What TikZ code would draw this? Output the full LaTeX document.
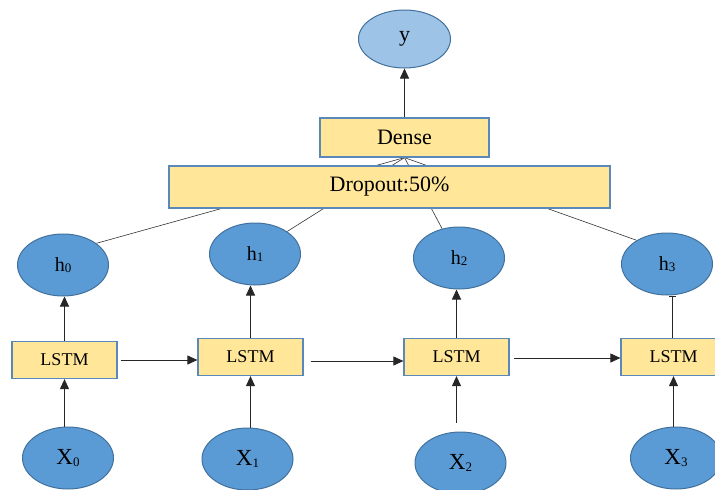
\documentclass[tikz,border=0pt]{standalone}
\usepackage{fontspec}
\setmainfont{Liberation Serif}
\usetikzlibrary{shapes.geometric,arrows.meta,backgrounds}
\definecolor{ellfill}{HTML}{5B9BD5}
\definecolor{ellline}{HTML}{41719C}
\definecolor{yfill}{HTML}{9DC3E6}
\definecolor{boxfill}{HTML}{FFE699}
\definecolor{boxline}{HTML}{5A88B8}
\newcommand{\hsb}[1]{\raisebox{-1.5pt}{\fontsize{13}{13}\selectfont #1}}
\begin{document}
\begin{tikzpicture}[x=1pt,y=-1pt,
  ell/.style={ellipse,draw=ellline,line width=1pt,fill=ellfill,minimum width=91pt,minimum height=62pt,inner sep=0pt},
  boxn/.style={rectangle,draw=boxline,line width=1.2pt,fill=boxfill,inner sep=0pt},
  lstm/.style={boxn,minimum width=105pt,minimum height=37pt,font=\fontsize{18}{20}\selectfont},
  arr/.style={-{Triangle[length=10pt,width=9pt]},line width=0.9pt,draw=black!85},
  conn/.style={line width=0.6pt,draw=black!80},
  hfont/.style={font=\fontsize{20}{22}\selectfont},
  xfont/.style={font=\fontsize{23}{25}\selectfont}]
\useasboundingbox (0,0) rectangle (715,490);

% output
\node[ell,fill=yfill,minimum width=92pt,minimum height=58pt,font=\fontsize{22}{24}\selectfont] (yn) at (404.5,39) {y};
\node[boxn,minimum width=169pt,minimum height=39pt,font=\fontsize{22}{24}\selectfont] (dense) at (404.5,137.5) {Dense};
\node[boxn,minimum width=441pt,minimum height=42pt,font=\fontsize{22}{24}\selectfont] (drop) at (389.5,187) {Dropout:50\%};

% hidden outputs
\node[ell,hfont] (h0) at (63,265) {h\hsb{0}};
\node[ell,hfont] (h1) at (255,254) {h\hsb{1}};
\node[ell,hfont] (h2) at (459,258) {h\hsb{2}};
\node[ell,hfont] (h3) at (667,264) {h\hsb{3}};

% LSTM cells
\node[lstm] (b0) at (64.5,360) {LSTM};
\node[lstm] (b1) at (250.5,357) {LSTM};
\node[lstm] (b2) at (456.5,357) {LSTM};
\node[lstm] (b3) at (673.5,357) {LSTM};

% inputs
\node[ell,xfont] (x0) at (68,458) {X\hsb{0}};
\node[ell,xfont] (x1) at (247.5,459) {X\hsb{1}};
\node[ell,xfont] (x2) at (460.5,463) {X\hsb{2}};
\node[ell,xfont] (x3) at (676,458) {X\hsb{3}};

% lines from h to dense (behind dropout)
\begin{pgfonlayer}{background}
\draw[conn] (h0.33) -- (dense.south);
\draw[conn] (h1.35) -- (dense.south);
\draw[conn] (h2.120) -- (dense.south);
\draw[conn] (h3.142) -- (dense.south);
\end{pgfonlayer}

% dense -> y
\draw[arr] (dense.north) -- (yn.south);

% x -> lstm
\draw[arr] (b0.south |- x0.north) -- (b0.south);
\draw[arr] (b1.south |- x1.north) -- (b1.south);
\draw[arr] ([yshift=9pt]b2.south |- x2.north) -- (b2.south);
\draw[arr] (b3.south |- x3.north) -- (b3.south);

% lstm -> h
\draw[arr] (b0.north) -- (b0.north |- h0.south);
\draw[arr] (b1.north) -- (b1.north |- h1.south);
\draw[arr] (b2.north) -- (b2.north |- h2.south);
\draw[line width=0.9pt,draw=black!85,-{Bar[width=7pt,line width=1.4pt]}] ([xshift=-1pt]b3.north) -- ([xshift=-1pt]b3.north |- h3.south);

% recurrent connections
\draw[arr] ([xshift=3pt]b0.east) -- (b0.east -| b1.west);
\draw[arr] ([xshift=7pt,yshift=-4pt]b1.east) -- ([yshift=-4pt]b1.east -| b2.west);
\draw[arr] ([xshift=4pt,yshift=-1pt]b2.east) -- ([yshift=-1pt]b2.east -| b3.west);
\end{tikzpicture}
\end{document}
